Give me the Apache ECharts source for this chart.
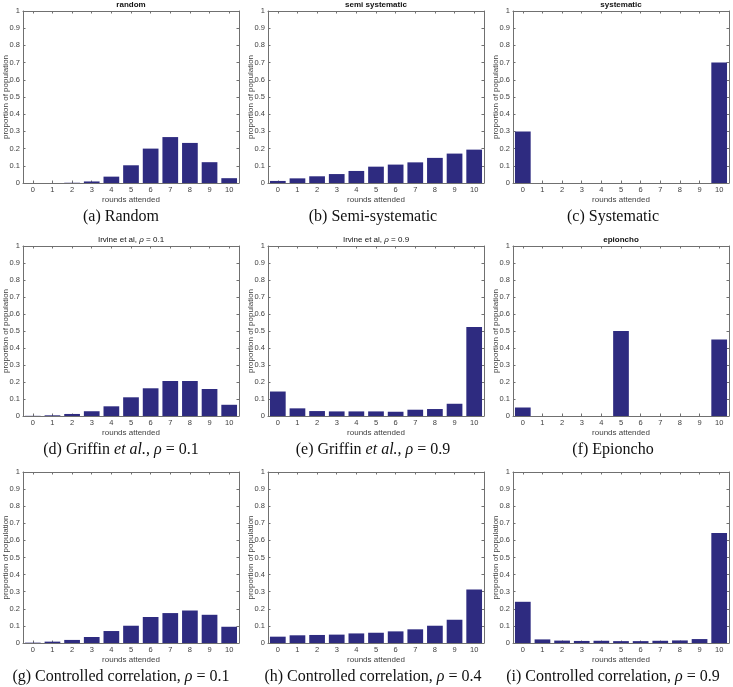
<!DOCTYPE html>
<html>
<head>
<meta charset="utf-8">
<script src="https://cdn.jsdelivr.net/npm/echarts@6/dist/echarts.min.js"></script>
<style>html,body{margin:0;padding:0;background:#fff;}#c{width:733px;height:687px;}</style>
</head>
<body>
<div id="c"></div>
<script>
// ---- data ----
const rounds = ['0','1','2','3','4','5','6','7','8','9','10'];
const yTickValues = [0,0.1,0.2,0.3,0.4,0.5,0.6,0.7,0.8,0.9,1];
const randomVals       = [0.0000, 0.0001, 0.0014, 0.009, 0.037, 0.103, 0.200, 0.267, 0.233, 0.121, 0.028];
const semiSystVals     = [0.012, 0.027, 0.039, 0.052, 0.070, 0.095, 0.107, 0.120, 0.146, 0.171, 0.194];
const systematicVals   = [0.30, 0, 0, 0, 0, 0, 0, 0, 0, 0, 0.70];
const irvine01Vals     = [0.001, 0.004, 0.012, 0.028, 0.057, 0.110, 0.163, 0.206, 0.206, 0.159, 0.066];
const irvine09Vals     = [0.144, 0.045, 0.029, 0.027, 0.027, 0.027, 0.025, 0.037, 0.041, 0.072, 0.524];
const epionchoVals     = [0.05, 0, 0, 0, 0, 0.50, 0, 0, 0, 0, 0.45];
const ctrl01Vals       = [0.002, 0.008, 0.018, 0.035, 0.070, 0.101, 0.152, 0.175, 0.190, 0.165, 0.095];
const ctrl04Vals       = [0.037, 0.045, 0.047, 0.049, 0.056, 0.060, 0.068, 0.080, 0.101, 0.136, 0.313];
const ctrl09Vals       = [0.241, 0.021, 0.014, 0.012, 0.013, 0.011, 0.011, 0.013, 0.015, 0.023, 0.644];
const panelTitles = ['{b|random}', '{b|semi systematic}', '{b|systematic}',
                     'Irvine et al, {i|ρ} = 0.1', 'Irvine et al, {i|ρ} = 0.9', '{b|epioncho}',
                     '', '', ''];
const panelCaptions = ['(a) Random', '(b) Semi-systematic', '(c) Systematic',
                       '(d) Griffin {i|et al.}, {i|ρ} = 0.1', '(e) Griffin {i|et al.}, {i|ρ} = 0.9', '(f) Epioncho',
                       '(g) Controlled correlation, {i|ρ} = 0.1', '(h) Controlled correlation, {i|ρ} = 0.4', '(i) Controlled correlation, {i|ρ} = 0.9'];
const yAxisName = 'proportion of population';
const xAxisName = 'rounds attended';
const panelValues = [randomVals, semiSystVals, systematicVals, irvine01Vals, irvine09Vals, epionchoVals, ctrl01Vals, ctrl04Vals, ctrl09Vals];

// ---- layout ----
const colLeft = [23, 268, 513];
const colWidth = 216;
const captionX = [121, 373, 613];
const rowTop = [11, 246, 472];
const rowHeight = [172, 170, 171];
const axisColor = '#707070';
const labelColor = '#404040';
const sansFont = 'Liberation Sans';
const barColor = '#2e2b80';

const grids = [], xAxes = [], yAxes = [], series = [], titles = [];
const fmt = v => String(Math.round(v * 10) / 10);

for (let p = 0; p < 9; p++) {
  const r = Math.floor(p / 3), c = p % 3;
  const left = colLeft[c], top = rowTop[r], h = rowHeight[r];
  grids.push({left: left, top: top, width: colWidth, height: h, containLabel: false});
  const tickStyle = {show: true, inside: true, length: 2.5, lineStyle: {color: axisColor, width: 1}};
  const lineStyle = {show: true, onZero: false, lineStyle: {color: axisColor, width: 1}};
  // bottom x
  xAxes.push({type: 'category', data: rounds, gridIndex: p, position: 'bottom',
    boundaryGap: true, axisLine: lineStyle, axisTick: Object.assign({alignWithLabel: true}, tickStyle),
    axisLabel: {color: labelColor, fontSize: 7.5, fontFamily: sansFont, margin: 3, interval: 0},
    name: xAxisName, nameLocation: 'middle', nameGap: 12.5, nameMoveOverlap: false,
    nameTextStyle: {color: labelColor, fontSize: 8, fontFamily: sansFont}});
  // top x (box + ticks)
  xAxes.push({type: 'category', data: rounds, gridIndex: p, position: 'top',
    boundaryGap: true, axisLine: lineStyle, axisTick: Object.assign({alignWithLabel: true}, tickStyle),
    axisLabel: {show: false}});
  // left y
  yAxes.push({type: 'value', gridIndex: p, position: 'left', min: 0, max: 1, interval: 0.1,
    axisLine: lineStyle, axisTick: tickStyle, splitLine: {show: false},
    axisLabel: {color: labelColor, fontSize: 7.5, fontFamily: sansFont, margin: 3, formatter: fmt},
    name: yAxisName, nameLocation: 'middle', nameGap: 13.5, nameRotate: 90, nameMoveOverlap: false,
    nameTextStyle: {color: labelColor, fontSize: 8, fontFamily: sansFont}});
  // right y (box + ticks)
  yAxes.push({type: 'value', gridIndex: p, position: 'right', min: 0, max: 1, interval: 0.1,
    axisLine: lineStyle, axisTick: tickStyle, splitLine: {show: false}, axisLabel: {show: false}});
  series.push({type: 'bar', xAxisIndex: 2 * p, yAxisIndex: 2 * p, data: panelValues[p],
    barWidth: '80%', itemStyle: {color: barColor}, silent: true, animation: false});
  if (panelTitles[p]) {
    titles.push({text: panelTitles[p], left: left + colWidth / 2, top: top - 10, textAlign: 'center',
      padding: 0,
      textStyle: {fontSize: 8, fontWeight: 'normal', color: '#111', fontFamily: sansFont,
        rich: {b: {fontSize: 8, fontWeight: 'bold', color: '#111', fontFamily: sansFont},
               i: {fontSize: 8, fontStyle: 'italic', color: '#111', fontFamily: sansFont}}}});
  }
  titles.push({text: panelCaptions[p], left: captionX[c], top: top + h + 26, textAlign: 'center',
    padding: 0,
    textStyle: {fontSize: 16, fontWeight: 'normal', color: '#111', fontFamily: 'Liberation Serif',
      rich: {i: {fontSize: 16, fontStyle: 'italic', color: '#111', fontFamily: 'Liberation Serif'}}}});
}

const chart = echarts.init(document.getElementById('c'), null, {renderer: 'canvas'});
chart.setOption({
  animation: false,
  backgroundColor: '#fff',
  title: titles,
  grid: grids,
  xAxis: xAxes,
  yAxis: yAxes,
  series: series
});
</script>
</body>
</html>
